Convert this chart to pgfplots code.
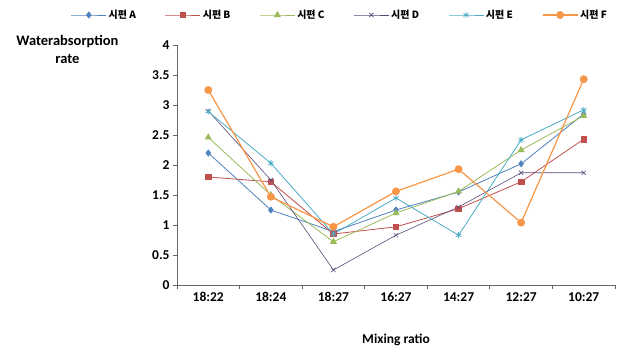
\documentclass[border=0pt]{standalone}
\usepackage{fontspec}
\setmainfont{Carlito}
\newfontfamily\kr{Noto Sans CJK KR}
\usepackage{pgfplots}
\pgfplotsset{compat=1.18}
\definecolor{cA}{HTML}{4F81BD}
\definecolor{cB}{HTML}{C0504D}
\definecolor{cC}{HTML}{9BBB59}
\definecolor{cD}{HTML}{5A4A78}
\definecolor{cE}{HTML}{4BACC6}
\definecolor{cF}{HTML}{F79646}
\begin{document}
\begin{tikzpicture}[x=1pt,y=1pt]
\path[use as bounding box] (-177,-70) rectangle (448,285);
\begin{axis}[
  scale only axis, width=438pt, height=240pt,
  xmin=0.5, xmax=7.5, ymin=0, ymax=4,
  axis lines=left, axis line style={draw=gray!80!black, line width=0.9pt, -},
  xtick={0.5,1.5,...,7.5},
  xticklabels={18:22,18:24,18:27,16:27,14:27,12:27,10:27},
  x tick label as interval=true,
  ytick={0,0.5,...,4},
  yticklabel style={/pgf/number format/fixed},
  /pgf/number format/assume math mode=true,
  tick label style={font=\fontsize{13.5}{15}\selectfont\bfseries},
  tick align=outside, major tick length=4pt,
  tick style={draw=gray!80!black, line width=0.8pt},
  xlabel={Mixing ratio},
  xlabel style={font=\fontsize{13.5}{15}\selectfont\bfseries, at={(rel axis cs:0.5,0)}, anchor=center, yshift=-55pt},
  ylabel={Waterabsorption\\rate},
  ylabel style={rotate=-90, align=center, font=\fontsize{14.5}{18}\selectfont\bfseries, at={(rel axis cs:0,1)}, anchor=north east, xshift=-55pt, yshift=13pt},
  legend columns=6,
  legend style={draw=none, fill=none, at={(rel axis cs:0.372,1.125)}, anchor=center,
    font=\kr\fontsize{10}{12}\selectfont\bfseries,
    /tikz/every even column/.append style={column sep=27pt}},
  legend image code/.code={\draw[mark repeat=2,mark phase=2] plot coordinates {(0pt,0pt) (17.5pt,0pt) (35pt,0pt)};},
  every axis plot/.append style={line width=0.8pt, mark size=3pt},
  clip=false,
]
\addplot[cA, mark=diamond*] coordinates {(1,2.2) (2,1.25) (3,0.89) (4,1.25) (5,1.55) (6,2.02) (7,2.85)};
\addlegendentry{시편 A}
\addplot[cB, mark=square*, mark size=2.8pt] coordinates {(1,1.8) (2,1.72) (3,0.85) (4,0.97) (5,1.27) (6,1.72) (7,2.43)};
\addlegendentry{시편 B}
\addplot[cC, mark=triangle*, mark size=3.3pt] coordinates {(1,2.46) (2,1.5) (3,0.72) (4,1.2) (5,1.56) (6,2.25) (7,2.82)};
\addlegendentry{시편 C}
\addplot[cD, mark=x, line width=0.6pt] coordinates {(1,2.9) (2,1.75) (3,0.25) (4,0.83) (5,1.3) (6,1.87) (7,1.87)};
\addlegendentry{시편 D}
\addplot[cE, mark=asterisk] coordinates {(1,2.89) (2,2.03) (3,0.85) (4,1.45) (5,0.83) (6,2.42) (7,2.92)};
\addlegendentry{시편 E}
\addplot[cF, mark=*, line width=1.2pt, mark size=3.3pt] coordinates {(1,3.25) (2,1.47) (3,0.97) (4,1.56) (5,1.93) (6,1.04) (7,3.43)};
\addlegendentry{시편 F}
\end{axis}
\end{tikzpicture}
\end{document}
